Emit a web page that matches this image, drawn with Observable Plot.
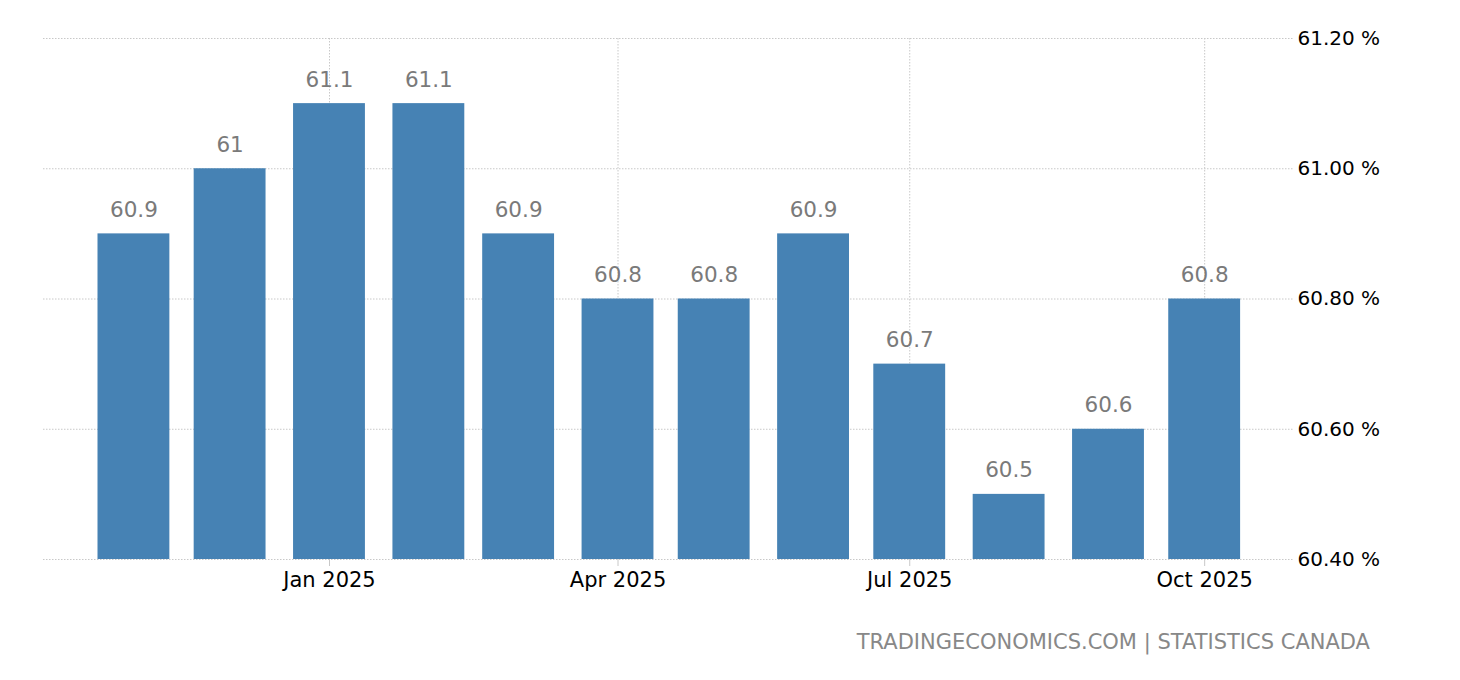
<!DOCTYPE html>
<html>
<head>
<meta charset="utf-8">
<script src="https://cdn.jsdelivr.net/npm/d3@7"></script>
<script src="https://cdn.jsdelivr.net/npm/@observablehq/plot@0.6"></script>
<style>
  html, body { margin: 0; padding: 0; background: #fff; }
  #wrap { position: relative; width: 1460px; height: 680px; font-family: "DejaVu Sans", sans-serif; }
  #caption { position: absolute; right: 90px; top: 630px; font-size: 21px; color: #888; letter-spacing: 0px; }
</style>
</head>
<body>
<div id="wrap">
  <div id="chart"></div>
  <div id="caption">TRADINGECONOMICS.COM | STATISTICS CANADA</div>
</div>
<script>
const months = ["2024-11-01","2024-12-01","2025-01-01","2025-02-01","2025-03-01","2025-04-01","2025-05-01","2025-06-01","2025-07-01","2025-08-01","2025-09-01","2025-10-01"];
const values = [60.9, 61, 61.1, 61.1, 60.9, 60.8, 60.8, 60.9, 60.7, 60.5, 60.6, 60.8];
const xTicks = ["2025-01-01","2025-04-01","2025-07-01","2025-10-01"];
const yTicks = [60.4, 60.6, 60.8, 61.0, 61.2];

const data = months.map((m, i) => {
  const date = new Date(m + "T00:00:00Z");
  return {
    date,
    x1: d3.utcHour.offset(date, -269),
    x2: d3.utcHour.offset(date, 269),
    value: values[i],
    label: String(values[i])
  };
});
const xTickDates = xTicks.map(t => new Date(t + "T00:00:00Z"));

const grid = "#c8c8c8";
const chart = Plot.plot({
  width: 1460,
  height: 610,
  marginTop: 38,
  marginBottom: 51,
  marginLeft: 43,
  marginRight: 167,
  style: { fontFamily: "DejaVu Sans, sans-serif", fontSize: "20px", background: "#fff", overflow: "visible" },
  x: { type: "utc", domain: [new Date("2024-10-03T19:00:00Z"), new Date("2025-10-28T17:00:00Z")] },
  y: { domain: [60.4, 61.2] },
  marks: [
    Plot.gridY(yTicks, { stroke: grid, strokeOpacity: 1, strokeDasharray: "1.5,1.5" }),
    Plot.gridX(xTickDates, { stroke: grid, strokeOpacity: 1, strokeDasharray: "1.5,1.5" }),
    Plot.rectY(data, { x1: "x1", x2: "x2", y1: 60.4, y2: "value", fill: "#4682b4" }),
    Plot.text(data, { x: "date", y: "value", text: "label", dy: -24, fill: "#7a7a7a", fontSize: 21.5, textAnchor: "middle" }),
    Plot.axisX(xTickDates, { tickFormat: d3.utcFormat("%b %Y"), tickSize: 7, tickPadding: 6, stroke: grid, fill: "#000", fontSize: 21, label: null }),
    Plot.axisY(yTicks, { anchor: "right", tickSize: 0, tickPadding: 4, tickFormat: d => d3.format(".2f")(d) + " %", fill: "#000", fontSize: 20, label: null })
  ]
});
document.getElementById("chart").appendChild(chart);
</script>
</body>
</html>
